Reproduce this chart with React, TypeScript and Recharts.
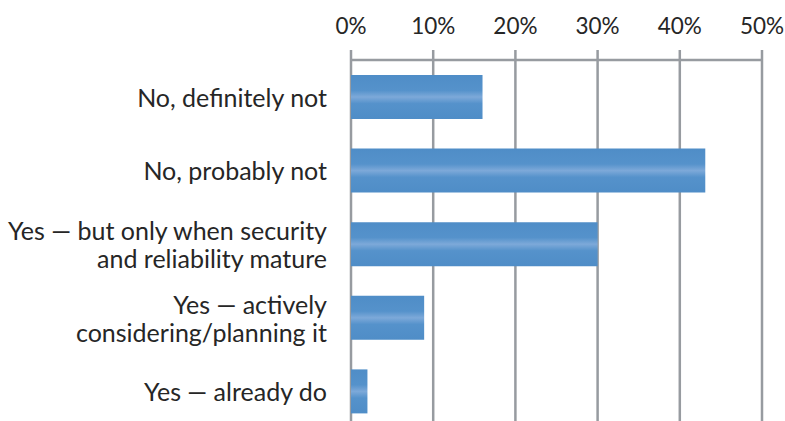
import { Bar, BarChart, CartesianGrid, XAxis, YAxis } from "recharts";

const CATEGORIES = [
  "No, definitely not",
  "No, probably not",
  "Yes — but only when security|and reliability mature",
  "Yes — actively|considering/planning it",
  "Yes — already do",
];
const SHARE = [16, 43.1, 30, 8.9, 2.0];
const X_TICKS = [0, 10, 20, 30, 40, 50];

const data = CATEGORIES.map((name, i) => ({ name, share: SHARE[i] }));

const FONT = "Lato, 'Open Sans', sans-serif";
const GRID = "#979ba0";

function CategoryTick({ x, y, payload }: any) {
  const lines = String(payload.value).split("|");
  const lh = 28;
  const start = y - ((lines.length - 1) * lh) / 2;
  return (
    <text
      x={x}
      y={start}
      textAnchor="end"
      dominantBaseline="central"
      fill="#262626"
      fontSize={25}
      fontFamily={FONT}
    >
      {lines.map((l, i) => (
        <tspan key={i} x={x} y={start + i * lh}>
          {l}
        </tspan>
      ))}
    </text>
  );
}

export default function App() {
  return (
    <div
      style={{
        position: "fixed",
        left: 0,
        top: 0,
        width: 785,
        height: 421,
        overflow: "hidden",
        background: "#fff",
      }}
    >
      <BarChart
        width={785}
        height={428}
        data={data}
        layout="vertical"
        margin={{ top: 0, right: 23, bottom: 0, left: 0 }}
        barSize={44}
      >
        <defs>
          <linearGradient id="barFill" x1="0" y1="0" x2="0" y2="1">
            <stop offset="0%" stopColor="#4f8dc7" />
            <stop offset="35%" stopColor="#5592cb" />
            <stop offset="50%" stopColor="#7da9d9" />
            <stop offset="65%" stopColor="#5592cb" />
            <stop offset="100%" stopColor="#4f8dc7" />
          </linearGradient>
        </defs>
        <CartesianGrid
          horizontal={false}
          vertical
          stroke={GRID}
          strokeWidth={2.5}
        />
        <XAxis
          type="number"
          orientation="top"
          domain={[0, 50]}
          ticks={X_TICKS}
          tickFormatter={(v) => `${v}%`}
          height={60}
          stroke={GRID}
          strokeWidth={2.5}
          tickSize={10}
          tickMargin={16}
          tick={{ fill: "#262626", fontSize: 22.5, fontFamily: FONT }}
          interval={0}
        />
        <YAxis
          type="category"
          dataKey="name"
          width={351}
          axisLine={false}
          tickLine={false}
          tickSize={0}
          tickMargin={24}
          tick={<CategoryTick />}
          interval={0}
        />
        <Bar dataKey="share" fill="url(#barFill)" isAnimationActive={false} />
      </BarChart>
    </div>
  );
}
